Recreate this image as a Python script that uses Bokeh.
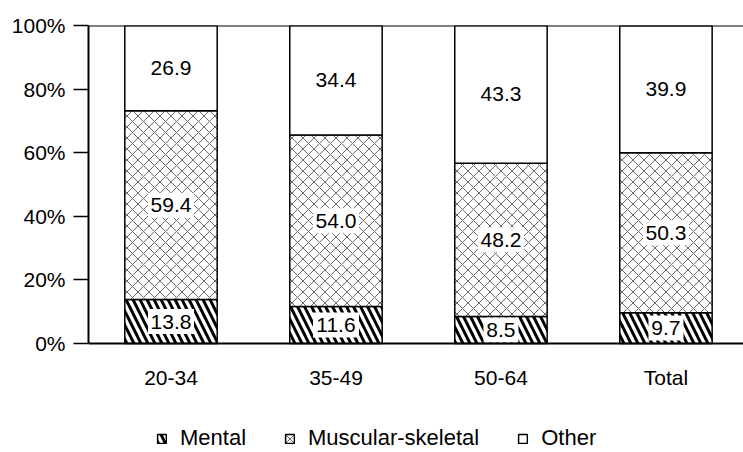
from bokeh.plotting import figure
from bokeh.models import (ColumnDataSource, Range1d, FixedTicker, NumeralTickFormatter,
                          LabelSet, Legend, LegendItem, Span)
from bokeh.core.properties import value
from bokeh.embed import file_html
from bokeh.resources import INLINE

# data (percent of cases)
groups = ["20-34", "35-49", "50-64", "Total"]
mental = [13.8, 11.6, 8.5, 9.7]
muscular = [59.4, 54.0, 48.2, 50.3]
other = [26.9, 34.4, 43.3, 39.9]
y_ticks = [0, 0.2, 0.4, 0.6, 0.8, 1.0]

FONT = "Liberation Sans"
FSIZE = "21px"
xs = [i + 0.5 for i in range(len(groups))]

m = [v / 100 for v in mental]
ms = [v / 100 for v in muscular]
o = [v / 100 for v in other]
b1 = m
b2 = [a + b for a, b in zip(m, ms)]
b3 = [a + b for a, b in zip(b2, o)]

def lab(vals):
    return ["%.1f" % v for v in vals]

src = ColumnDataSource(dict(
    x=xs, m0=[0] * len(xs), m1=b1, s1=b2, o1=b3,
    grp=groups,
    mlab=lab(mental), slab=lab(muscular), olab=lab(other),
    mw=[11 * len(t) + 2 for t in lab(mental)],
    sw=[11 * len(t) + 2 for t in lab(muscular)],
    my=[v / 2 for v in b1],
    sy=[(a + b) / 2 for a, b in zip(b1, b2)],
    oy=[(a + b) / 2 for a, b in zip(b2, b3)],
))

# frame reaches the bottom of the page so the legend can sit under the bars
# 318px per 100%, 427px frame -> y from -0.343 to 1
p = figure(frame_width=655, frame_height=427, output_backend="svg", toolbar_location=None,
           x_range=Range1d(0, 3.97), y_range=Range1d(1.0 - 427 / 318, 1.0),
           x_axis_location=None,
           min_border_left=88, min_border_right=0, min_border_top=25,
           min_border_bottom=0)
p.outline_line_color = None
p.grid.visible = False
p.background_fill_color = "white"
p.border_fill_color = "white"

bw = 0.56
r_m = p.vbar(x="x", bottom="m0", top="m1", width=bw, source=src,
             fill_color="white", line_color="black", line_width=1.5,
             hatch_pattern="\\", hatch_color="black", hatch_weight=3, hatch_scale=14)
r_s = p.vbar(x="x", bottom="m1", top="s1", width=bw, source=src,
             fill_color="white", line_color="black", line_width=1.5,
             hatch_pattern="x", hatch_color="#444444", hatch_weight=0.8, hatch_scale=11)
r_o = p.vbar(x="x", bottom="s1", top="o1", width=bw, source=src,
             fill_color="white", line_color="black", line_width=1.5)

# white boxes behind the value labels
p.rect(x="x", y="my", width="mw", height=25, width_units="screen", height_units="screen",
       source=src, fill_color="white", line_color=None)
p.rect(x="x", y="sy", width="sw", height=25, width_units="screen", height_units="screen",
       source=src, fill_color="white", line_color=None)

for ycol, tcol in [("my", "mlab"), ("sy", "slab"), ("oy", "olab")]:
    p.add_layout(LabelSet(x="x", y=ycol, text=tcol, source=src,
                          text_align="center", text_baseline="middle",
                          text_font=value(FONT), text_font_size=value(FSIZE),
                          text_color=value("black")))

# category labels under the baseline
p.add_layout(LabelSet(x="x", y="m0", text="grp", source=src, y_offset=-34,
                      text_align="center", text_baseline="middle",
                      text_font=value(FONT), text_font_size=value(FSIZE),
                      text_color=value("black")))

# baseline and top border
p.add_layout(Span(location=0.0, dimension="width", line_color="black", line_width=2))
p.add_layout(Span(location=1.0, dimension="width", line_color="black", line_width=2))

# y axis
ya = p.yaxis[0]
ya.bounds = (0, 1)
ya.ticker = FixedTicker(ticks=y_ticks)
ya.formatter = NumeralTickFormatter(format="0%")
ya.major_tick_out = 15
ya.major_tick_in = 0
ya.minor_tick_out = 0
ya.minor_tick_in = 0
ya.major_label_standoff = 8
ya.axis_line_width = 2
ya.major_tick_line_width = 1.5
ya.major_label_text_font = FONT
ya.major_label_text_font_size = FSIZE
ya.major_label_text_color = "black"

legend = Legend(items=[LegendItem(label="Mental", renderers=[r_m]),
                       LegendItem(label="Muscular-skeletal", renderers=[r_s]),
                       LegendItem(label="Other", renderers=[r_o])],
                orientation="horizontal", location=(68, 1),
                glyph_width=11, glyph_height=11, label_standoff=13, spacing=38,
                padding=0, margin=0, border_line_color=None, background_fill_alpha=0,
                label_text_font=FONT, label_text_font_size="22px", label_text_color="black")
p.add_layout(legend, "center")

open("out.html", "w").write(file_html(p, INLINE))
